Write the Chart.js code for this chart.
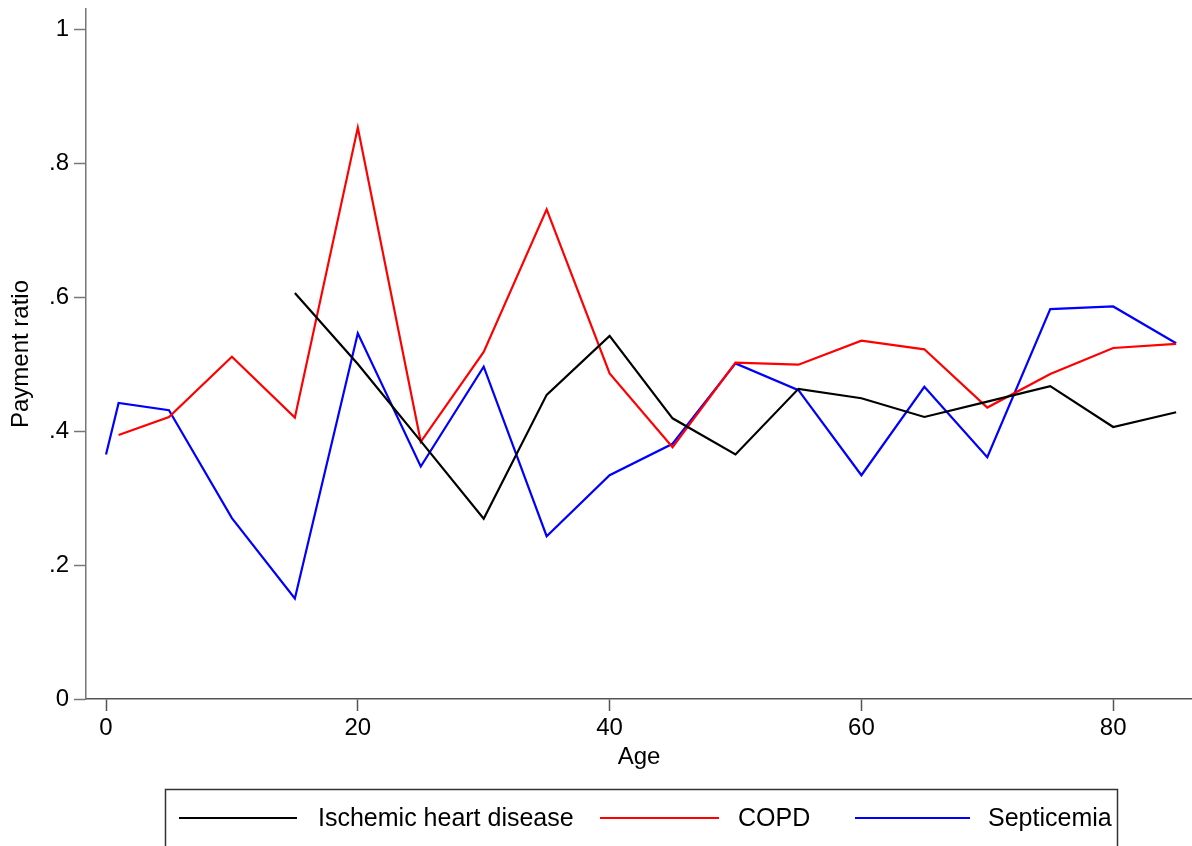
<!DOCTYPE html>
<html lang="en">
<head>
  <meta charset="UTF-8">
  <title>Payment ratio by age</title>
  <script src="https://cdn.jsdelivr.net/npm/chart.js"></script>
  <style>
    body {
      margin: 0;
      background: #fff;
    }
    canvas {
      display: block;
    }
  </style>
</head>
<body>
  <canvas id="ratioChart" width="1192" height="846"></canvas>

  <script>
    // ages per series (each series starts at a different age)
    const agesIhd = [15, 20, 25, 30, 35, 40, 45, 50, 55, 60, 65, 70, 75, 80, 85];
    const agesCopd = [1, 5, 10, 15, 20, 25, 30, 35, 40, 45, 50, 55, 60, 65, 70, 75, 80, 85];
    const agesSepticemia = [0, 1, 5, 10, 15, 20, 25, 30, 35, 40, 45, 50, 55, 60, 65, 70, 75, 80, 85];

    // payment ratio values
    const ihd = [0.606, 0.500, 0.385, 0.269, 0.454, 0.542, 0.419, 0.365, 0.463, 0.449, 0.421, 0.444, 0.467, 0.406, 0.428];
    const copd = [0.394, 0.421, 0.511, 0.420, 0.853, 0.384, 0.518, 0.731, 0.486, 0.376, 0.502, 0.499, 0.535, 0.522, 0.435, 0.485, 0.524, 0.530];
    const septicemia = [0.365, 0.442, 0.431, 0.270, 0.150, 0.546, 0.347, 0.496, 0.243, 0.334, 0.381, 0.501, 0.461, 0.334, 0.466, 0.361, 0.582, 0.586, 0.531];

    const seriesNames = ['Ischemic heart disease', 'COPD', 'Septicemia'];
    const seriesColors = ['#000000', '#ff0000', '#0000ff'];

    const xTicks = [0, 20, 40, 60, 80];
    const yTicks = [0, 0.2, 0.4, 0.6, 0.8, 1];

    const FONT = "'Liberation Sans', Arial, sans-serif";

    function toPoints(xs, ys) {
      return xs.map((x, i) => ({ x: x, y: ys[i] }));
    }

    // stata style legend box under the plot
    const boxLegend = {
      id: 'boxLegend',
      afterDraw(chart) {
        const ctx = chart.ctx;
        const itemPos = [[179, 297, 318], [600, 719, 738], [855, 970, 988]];
        const y = 818;
        ctx.save();
        ctx.strokeStyle = '#333';
        ctx.lineWidth = 1.5;
        ctx.strokeRect(165.5, 789.5, 952, 120);
        ctx.font = '25px ' + FONT;
        ctx.textBaseline = 'middle';
        ctx.textAlign = 'left';
        chart.data.datasets.forEach((ds, i) => {
          const p = itemPos[i];
          ctx.strokeStyle = ds.borderColor;
          ctx.lineWidth = 2;
          ctx.beginPath();
          ctx.moveTo(p[0], y);
          ctx.lineTo(p[1], y);
          ctx.stroke();
          ctx.fillStyle = '#000';
          ctx.fillText(ds.label, p[2], y + 1);
        });
        ctx.restore();
      }
    };

    const ctx = document.getElementById('ratioChart').getContext('2d');
    new Chart(ctx, {
      type: 'line',
      data: {
        datasets: [
          { label: seriesNames[0], data: toPoints(agesIhd, ihd), borderColor: seriesColors[0] },
          { label: seriesNames[1], data: toPoints(agesCopd, copd), borderColor: seriesColors[1] },
          { label: seriesNames[2], data: toPoints(agesSepticemia, septicemia), borderColor: seriesColors[2] }
        ]
      },
      options: {
        responsive: false,
        animation: false,
        layout: { padding: { top: 9, right: 0, left: 0, bottom: 0 } },
        elements: {
          line: { borderWidth: 2.2, tension: 0, fill: false },
          point: { radius: 0, hoverRadius: 0 }
        },
        plugins: {
          legend: { display: false },
          tooltip: { enabled: false }
        },
        scales: {
          x: {
            type: 'linear',
            min: -1.59,
            max: 86.26,
            afterBuildTicks: scale => { scale.ticks = xTicks.map(v => ({ value: v })); },
            afterFit: scale => {
              scale.height = 147;
              scale.paddingLeft = 0;
              scale.paddingRight = 0;
            },
            grid: { drawOnChartArea: false, tickLength: 12, tickColor: '#555', tickWidth: 1.5 },
            border: { color: '#555', width: 1.5 },
            ticks: { color: '#000', font: { family: FONT, size: 24 }, padding: 3, maxRotation: 0 },
            title: { display: true, text: 'Age', color: '#000', font: { family: FONT, size: 24 }, padding: { top: 0, bottom: 74 } }
          },
          y: {
            min: 0,
            max: 1.03,
            afterBuildTicks: scale => { scale.ticks = yTicks.map(v => ({ value: v })); },
            afterFit: scale => {
              scale.width = 86;
              scale.paddingTop = 0;
              scale.paddingBottom = 0;
            },
            grid: { drawOnChartArea: false, tickLength: 12, tickColor: '#777', tickWidth: 1.5 },
            border: { color: '#777', width: 1.5 },
            ticks: {
              color: '#000',
              font: { family: FONT, size: 24 },
              padding: 5,
              callback: v => (v === 0 || v === 1) ? String(v) : String(Math.round(v * 10) / 10).replace(/^0/, '')
            },
            title: { display: true, text: 'Payment ratio', color: '#000', font: { family: FONT, size: 24 }, padding: { top: 7, bottom: 0 } }
          }
        }
      },
      plugins: [boxLegend]
    });
  </script>
</body>
</html>
